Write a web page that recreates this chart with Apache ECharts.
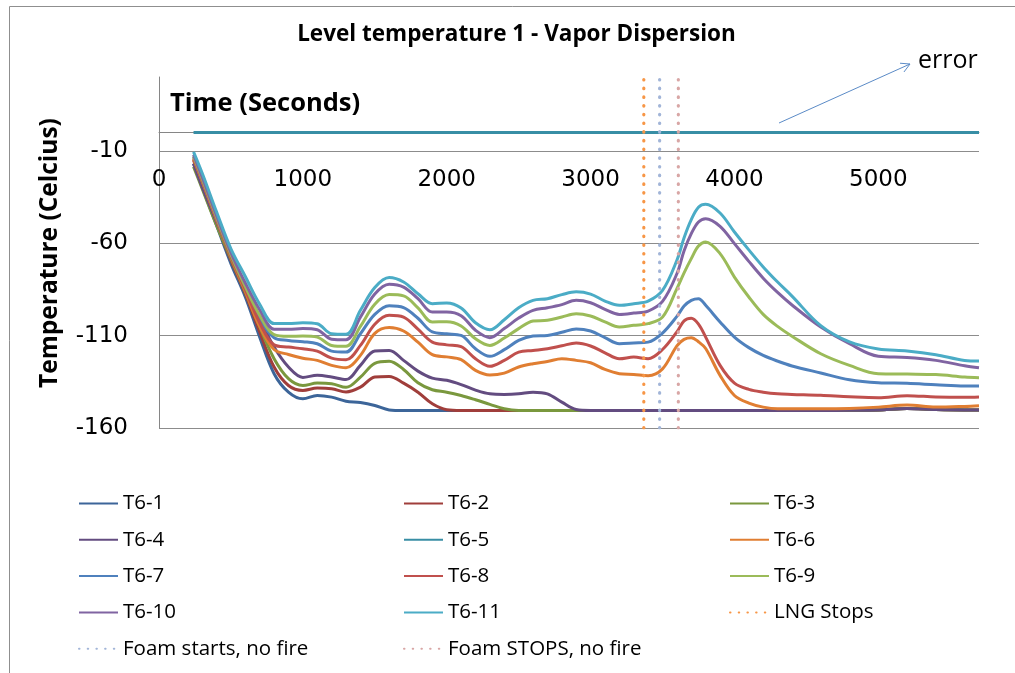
<!DOCTYPE html>
<html>
<head>
<meta charset="utf-8">
<script src="https://cdn.jsdelivr.net/npm/echarts@6/dist/echarts.min.js"></script>
<style>
  html, body { margin: 0; padding: 0; background: #ffffff; }
  #chart { width: 1015px; height: 673px; }
</style>
</head>
<body>
<div id="chart"></div>
<script>
// Sample times (s) shared by the T6 thermocouple traces
const time = [240, 300, 400, 500, 600, 700, 800, 900, 1000,
  1100, 1200, 1300, 1400, 1500, 1600, 1700, 1800, 1900, 2000,
  2100, 2200, 2300, 2400, 2500, 2600, 2700, 2800, 2900, 3000,
  3100, 3200, 3300, 3400, 3500, 3600,
  3650, 3700, 3750, 3800,
  3900, 4000, 4100, 4200, 4300, 4400,
  4600, 4800, 5000, 5200, 5400, 5600, 5700];

// Temperatures (°C)
const t6_1 = [-16.8, -29.5, -50.3, -71, -89.1, -110.8, -130.6, -140.6, -144.2,
  -142.4, -143.3, -145.5, -146.2, -147.8, -150.2, -150.5, -150.5, -150.5, -150.5,
  -150.5, -150.5, -150.5, -150.5, -150.5, -150.5, -150.5, -150.5, -150.5, -150.5,
  -150.5, -150.5, -150.5, -150.5, -150.5, -150.5,
  -150.5, -150.5, -150.5, -150.5,
  -150.5, -150.5, -150.5, -150.5, -150.5, -150.5,
  -150.5, -150.4, -150.2, -149.5, -150, -150.2, -150.2];

const t6_2 = [-15, -28.6, -49.4, -69.2, -87.3, -108, -127, -137, -139.7,
  -138.4, -138.7, -140.5, -137.9, -132.4, -132.1, -135.7, -140.6, -146.9, -150.1,
  -150.5, -150.5, -150.5, -150.5, -150.5, -150.5, -150.5, -150.5, -150.5, -150.5,
  -150.5, -150.5, -150.5, -150.5, -150.5, -150.5,
  -150.5, -150.5, -150.5, -150.5,
  -150.5, -150.5, -150.5, -150.5, -150.5, -150.5,
  -150.5, -150.4, -150.2, -149.5, -150, -150.2, -150.2];

const t6_3 = [-18.6, -30.4, -50.3, -68.3, -86.4, -105.3, -122.5, -133.3, -137,
  -135.7, -136, -138, -132.5, -125, -123.9, -128.3, -135.5, -139.3, -140.6,
  -142.4, -144.7, -147.2, -149.6, -150.5, -150.5, -150.5, -150.5, -150.5, -150.5,
  -150.5, -150.5, -150.5, -150.5, -150.5, -150.5,
  -150.5, -150.5, -150.5, -150.5,
  -150.5, -150.5, -150.5, -150.5, -150.5, -150.5,
  -150.5, -150.4, -150.2, -149.5, -150, -150.2, -150.2];

const t6_4 = [-17, -29.5, -48.4, -66.5, -83.7, -100.8, -116.2, -127, -132.6,
  -131.5, -132.4, -133.8, -126.1, -118.3, -118, -123.4, -129.2, -133, -134.2,
  -136.5, -139.5, -141.5, -141.8, -141.5, -140.6, -141.5, -146, -150, -150.5,
  -150.5, -150.5, -150.5, -150.5, -150.5, -150.5,
  -150.5, -150.5, -150.5, -150.5,
  -150.5, -150.5, -150.5, -150.5, -150.5, -150.5,
  -150.5, -150.4, -150.2, -149.4, -150, -150.2, -150.2];

// T6-5 read a constant 0 °C (faulty sensor)
const t6_5Time = [240, 5700];
const t6_5 = [0, 0];

const t6_6 = [-14.5, -26.5, -47.5, -67.5, -86, -105, -117.5, -120.2, -122.2,
  -123.4, -126.1, -127.4, -120.7, -108.8, -105.6, -107.5, -113.5, -120.3, -121.5,
  -123, -128.8, -131.3, -130.3, -127, -125.2, -124, -122.5, -123.4, -124.7,
  -128.3, -130.6, -131, -131.7, -128, -115.5,
  -112, -111.1, -113.3, -117,
  -131.5, -142.4, -146.5, -148.7, -149.6, -149.6,
  -149.6, -149.4, -148.7, -147.6, -148.7, -148.3, -147.9];

const t6_7 = [-13, -25.5, -46.5, -66.5, -84, -101, -111.1, -112.6, -113.3,
  -114.4, -118.4, -118.9, -109, -98.5, -93.8, -94.8, -100.6, -108, -109,
  -109.9, -117.1, -121.2, -117.6, -112.6, -110.2, -109.9, -108.2, -106.4, -107.5,
  -111.1, -114.4, -114, -113.5, -108.6, -99.6,
  -94, -90.9, -90, -93.6,
  -102.6, -110.8, -116.5, -120.7, -123.8, -126.4,
  -130.2, -133.9, -135.5, -135.8, -136.6, -137.3, -137.3];

const t6_8 = [-14, -26, -47, -67, -85, -103, -115, -116.2, -117.1,
  -118.4, -122.2, -123.1, -115.3, -103.8, -99, -100, -106.5, -113.5, -115,
  -116, -122.5, -126.6, -123.4, -118.9, -118, -117.1, -115.5, -114, -115.6,
  -119.3, -122.5, -121.6, -122.5, -117.5, -108,
  -102, -100.6, -103.8, -110.8,
  -126.1, -135.7, -139.1, -140.6, -141.5, -141.8,
  -142.3, -143.1, -143.6, -142.5, -143.2, -143.4, -143.2];

const t6_9 = [-13, -25, -46, -66, -83.5, -99, -109.5, -110.4, -110.2,
  -110.8, -115.3, -115.8, -105, -93, -87.8, -88.5, -95, -102.6, -102.5,
  -104.8, -111.7, -115.3, -111.3, -106.2, -102.1, -101.7, -99.9, -98.1, -99.4,
  -102.6, -105.3, -104.4, -103.5, -100, -84.6,
  -76, -68.3, -61.5, -59.3,
  -65.6, -78.3, -89.1, -98.5, -105, -110.3,
  -119.8, -126.1, -130.6, -130.8, -131.1, -132.4, -132.8];

const t6_10 = [-12, -24, -45, -65, -81.5, -96, -106.5, -106.6, -106.1,
  -106.8, -111.9, -112.2, -100, -87.5, -82.2, -83.7, -90, -97.2, -97.2,
  -99.2, -107.1, -111.1, -106.2, -100.5, -96.3, -94.9, -93.2, -90.9, -92.2,
  -95.8, -98.5, -97.8, -96.7, -91.5, -76.5,
  -64, -54.8, -48.5, -46.7,
  -50.8, -60.2, -69.8, -78.9, -86.6, -93.4,
  -105.3, -114.4, -121.2, -121.8, -123.4, -126.3, -127.4];

const t6_11 = [-10.5, -22, -43, -63, -78, -93, -103.5, -103.5, -103,
  -103.6, -109, -109.3, -96.3, -84, -78.6, -81, -87.3, -92.7, -92.3,
  -95, -103, -106.8, -101.4, -94.9, -90.9, -90, -87.8, -86.3, -87.5,
  -91.3, -93.6, -92.7, -91.3, -85.5, -69.2,
  -57, -47.2, -40.5, -38.9,
  -43.6, -53.9, -63.6, -72.8, -81, -88.6,
  -104.6, -113.4, -117.2, -118.3, -120.3, -123.4, -123.7];

// Event times (s)
const lngStops = 3370;
const foamStarts = 3480;
const foamStops = 3610;

// Axis ranges
const xRange = [0, 5700];
const yRange = [-160, 30];

const traces = [
  { name: 'T6-1',  values: t6_1,  color: '#3C6599' },
  { name: 'T6-2',  values: t6_2,  color: '#A03E3B' },
  { name: 'T6-3',  values: t6_3,  color: '#7A983E' },
  { name: 'T6-4',  values: t6_4,  color: '#634C80' },
  { name: 'T6-5',  values: t6_5,  color: '#388EA5', times: t6_5Time },
  { name: 'T6-6',  values: t6_6,  color: '#E07E32' },
  { name: 'T6-7',  values: t6_7,  color: '#4F81BD' },
  { name: 'T6-8',  values: t6_8,  color: '#C0504D' },
  { name: 'T6-9',  values: t6_9,  color: '#9BBB59' },
  { name: 'T6-10', values: t6_10, color: '#8064A2' },
  { name: 'T6-11', values: t6_11, color: '#4BACC6' }
];

const events = [
  { name: 'LNG Stops', t: lngStops, color: '#F79646' },
  { name: 'Foam starts, no fire', t: foamStarts, color: '#A2B5D8' },
  { name: 'Foam STOPS, no fire', t: foamStops, color: '#D8A6A5' }
];

const series = traces.map(tr => {
  const ts = tr.times || time;
  return {
    name: tr.name,
    type: 'line',
    data: ts.map((t, i) => [t, tr.values[i]]),
    smooth: 0.35,
    symbol: 'none',
    color: tr.color,
    lineStyle: { color: tr.color, width: 3 },
    z: 3
  };
}).concat(events.map(ev => ({
  name: ev.name,
  type: 'line',
  data: [[ev.t, yRange[0]], [ev.t, yRange[1]]],
  symbol: 'none',
  color: ev.color,
  lineStyle: { color: ev.color, width: 3.2, type: [0.5, 8.2], cap: 'round' },
  z: 4
})));

const legendText = { fontFamily: 'Open Sans', fontSize: 20.5, color: '#000', lineHeight: 22 };
function legendColumn(left, names) {
  return {
    orient: 'vertical', left: left, top: 492.5, padding: 0,
    itemWidth: 39, itemHeight: 14, itemGap: 14.3,
    itemStyle: { opacity: 0 },
    textStyle: legendText, data: names, selectedMode: false
  };
}

const axisGrey = '#868686';
const gridBox = { left: 159, right: 36, top: 77, bottom: 245 };
const plotHeight = 673 - gridBox.top - gridBox.bottom;
// time axis crosses the temperature axis at 0 °C
const xAxisShift = -plotHeight * (0 - yRange[0]) / (yRange[1] - yRange[0]);

const chart = echarts.init(document.getElementById('chart'), null, { renderer: 'canvas' });

// Arrow pointing to the "error" note
const arrowFrom = [779, 123], arrowTo = [910, 64];
const ang = Math.atan2(arrowTo[1] - arrowFrom[1], arrowTo[0] - arrowFrom[0]);
const headLen = 10, headSpread = 0.5;
const wing = s => [arrowTo[0] - headLen * Math.cos(ang + s * headSpread), arrowTo[1] - headLen * Math.sin(ang + s * headSpread)];

chart.setOption({
  animation: false,
  backgroundColor: '#ffffff',
  grid: Object.assign({ containLabel: false }, gridBox),
  xAxis: {
    type: 'value', min: xRange[0], max: xRange[1], interval: 1000,
    position: 'bottom', offset: xAxisShift,
    axisLine: { show: true, onZero: false, lineStyle: { color: axisGrey, width: 1 } },
    axisTick: { show: false },
    splitLine: { show: false },
    axisLabel: {
      showMaxLabel: false, margin: 36,
      formatter: v => String(v),
      fontFamily: 'DejaVu Sans', fontSize: 23, lineHeight: 23, color: '#000'
    }
  },
  yAxis: {
    type: 'value', min: yRange[0], max: yRange[1], interval: 50,
    axisLine: { show: true, onZero: false, lineStyle: { color: axisGrey, width: 1 } },
    axisTick: { show: false },
    splitLine: { show: true, showMaxLine: false, lineStyle: { color: '#8c8c8c', width: 1 } },
    axisLabel: {
      showMaxLabel: false, margin: 31,
      fontFamily: 'DejaVu Sans', fontSize: 23, color: '#000'
    }
  },
  legend: [
    legendColumn(78,  ['T6-1', 'T6-4', 'T6-7', 'T6-10', 'Foam starts, no fire']),
    legendColumn(403, ['T6-2', 'T6-5', 'T6-8', 'T6-11', 'Foam STOPS, no fire']),
    legendColumn(729, ['T6-3', 'T6-6', 'T6-9', 'LNG Stops'])
  ],
  graphic: [
    { type: 'rect', silent: true, z: -1,
      shape: { x: 9.5, y: 6.5, width: 1100, height: 800 },
      style: { fill: null, stroke: '#8f8f8f', lineWidth: 1 } },
    { type: 'text', x: 516.5, y: 34.5,
      style: { text: 'Level temperature 1 - Vapor Dispersion', fontFamily: 'Open Sans',
        fontWeight: 'bold', fontSize: 22.5, fill: '#000', align: 'center', verticalAlign: 'middle' } },
    { type: 'text', x: 170, y: 104,
      style: { text: 'Time (Seconds)', fontFamily: 'Open Sans', fontWeight: 'bold',
        fontSize: 25.5, fill: '#000', align: 'left', verticalAlign: 'middle' } },
    { type: 'text', x: 50, y: 253, rotation: Math.PI / 2,
      style: { text: 'Temperature (Celcius)', fontFamily: 'Open Sans', fontWeight: 'bold',
        fontSize: 24.5, fill: '#000', align: 'center', verticalAlign: 'middle' } },
    { type: 'text', x: 918, y: 61,
      style: { text: 'error', fontFamily: 'Open Sans', fontSize: 25, fill: '#000',
        align: 'left', verticalAlign: 'middle' } },
    { type: 'line', shape: { x1: arrowFrom[0], y1: arrowFrom[1], x2: arrowTo[0], y2: arrowTo[1] },
      style: { stroke: '#5B8BC7', lineWidth: 1 } },
    { type: 'polyline', shape: { points: [wing(1), arrowTo, wing(-1)] },
      style: { stroke: '#5B8BC7', lineWidth: 1, fill: null } }
  ],
  series: series
});
</script>
</body>
</html>
